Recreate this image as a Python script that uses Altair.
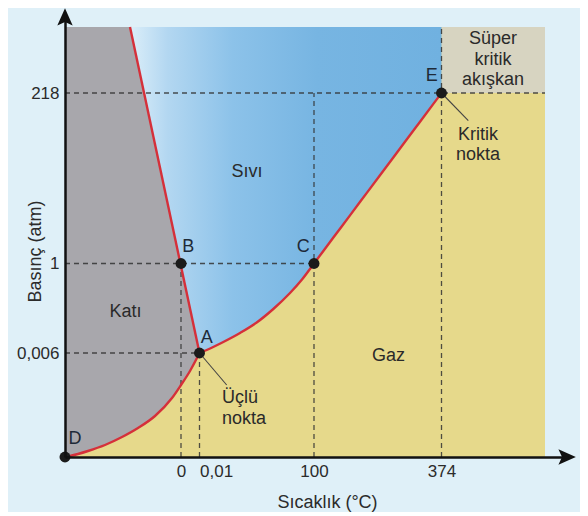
import altair as alt
import pandas as pd

# ---- schematic axis positions (diagram units) and their tick labels ----
T_POS = [116, 134.5, 249, 376.5]
T_LABELS = ["0", "0,01", "100", "374"]
P_POS = [104, 193.5, 364]
P_LABELS = ["0,006", "1", "218"]

# ---- phase boundary curves (diagram units) ----
SUB_X = [0, 5, 23, 40, 57, 73, 90, 107, 116, 125, 134.5]
SUB_Y = [0, 1, 6, 12, 20, 29, 41, 59, 72, 86, 104]
VAP_X = [134.5, 141.7, 158.3, 175, 191.7, 208.3, 225, 237, 249, 268, 285, 302, 318, 335, 352, 368, 376.5]
VAP_Y = [104, 107, 115, 124, 134.5, 148, 164, 177.5, 193.5, 219, 241.6, 264.4, 285.8, 308.5, 331.2, 352.6, 364]
FUS_X = [65, 134.5]
FUS_Y = [430, 104]

# ---- diagram extent ----
X_END = 480
Y_END = 430

# ---- labelled points ----
PT_NAMES = ["A", "B", "C", "D", "E"]
PT_X = [134.5, 116, 249, 0, 376.5]
PT_Y = [104, 193.5, 193.5, 0, 364]
PT_LX = [141.7, 123.3, 238.3, 10, 366.7]
PT_LY = [119, 210, 210, 18, 381]

# ---- region labels ----
REG_TEXT = ["Katı", "Sıvı", "Gaz", "Kritik", "nokta", "Süper", "kritik", "akışkan"]
REG_X = [60.5, 182, 323.5, 413, 413, 428, 428, 428]
REG_Y = [145, 285, 101, 322, 302, 418, 397, 377]
TRIPLE_TEXT = ["Üçlü", "nokta"]
TRIPLE_X = [157, 157]
TRIPLE_Y = [59, 38]

FONT = "Liberation Sans"
XD = [0, 503]
YD = [0, 443]

xs = alt.Scale(domain=XD, nice=False, zero=False)
ys = alt.Scale(domain=YD, nice=False, zero=False)


def expr(pos, labels):
    s = "''"
    for p, l in reversed(list(zip(pos, labels))):
        s = f"datum.value == {p} ? '{l}' : ({s})"
    return s


x_axis = alt.Axis(
    values=T_POS, labelExpr=expr(T_POS, T_LABELS), grid=False, ticks=False,
    domain=True, domainColor="#111111", domainWidth=2.5,
    labelFont=FONT, labelFontSize=17, labelColor="#2b2b2b", labelPadding=6,
    labelOverlap=False, labelFlush=False,
    labelAlign={"condition": {"test": "datum.value == 134.5", "value": "left"}, "value": "center"},
    title="Sıcaklık (°C)", titleFont=FONT, titleFontSize=18, titleFontWeight="normal",
    titleColor="#2b2b2b", titleX=262, titleY=45, titleBaseline="middle", titleAlign="center",
    zindex=1,
)
y_axis = alt.Axis(
    values=P_POS, labelExpr=expr(P_POS, P_LABELS), grid=False, ticks=False,
    domain=True, domainColor="#111111", domainWidth=2.5,
    labelFont=FONT, labelFontSize=17, labelColor="#2b2b2b", labelPadding=6,
    labelOverlap=False, labelFlush=False,
    title="Basınç (atm)", titleFont=FONT, titleFontSize=18, titleFontWeight="normal",
    titleColor="#2b2b2b", titleX=-30, titleY=237, titleBaseline="middle", titleAlign="center",
    titleAngle=270, zindex=1,
)


def X(f):
    return alt.X(f, type="quantitative", scale=xs, axis=x_axis)


def Y(f):
    return alt.Y(f, type="quantitative", scale=ys, axis=y_axis)


# regions
rects = pd.DataFrame({
    "x": [0, T_POS[3]], "x2": [X_END, X_END],
    "y": [0, P_POS[2]], "y2": [Y_END, Y_END],
    "c": ["#e6d98b", "#d7d4c1"],
})
rect_layer = alt.Chart(rects).mark_rect().encode(
    x=X("x"), x2="x2", y=Y("y"), y2="y2",
    color=alt.Color("c:N", scale=None),
)

solid = pd.DataFrame({"x": SUB_X, "y": [Y_END] * len(SUB_X), "y2": SUB_Y})
solid_layer = alt.Chart(solid).mark_area(color="#a8a7ac", interpolate="monotone").encode(
    x=X("x"), y=Y("y"), y2="y2"
)

liq_x = [FUS_X[0]] + VAP_X
liq_y2 = [FUS_Y[0]] + VAP_Y
liquid = pd.DataFrame({"x": liq_x, "y": [Y_END] * len(liq_x), "y2": liq_y2})
grad = alt.Gradient(
    gradient="linear", x1=0, x2=1, y1=0, y2=0,
    stops=[
        alt.GradientStop(color="#dbeef9", offset=0),
        alt.GradientStop(color="#b3d7f1", offset=0.12),
        alt.GradientStop(color="#8cc2e9", offset=0.33),
        alt.GradientStop(color="#77b5e2", offset=0.6),
        alt.GradientStop(color="#70b1e0", offset=1),
    ],
)
liquid_layer = alt.Chart(liquid).mark_area(color=grad).encode(
    x=X("x"), y=Y("y"), y2="y2"
)

# dashed guide lines
guides = pd.DataFrame({
    "x": [0, T_POS[3], 0, T_POS[2], T_POS[0], T_POS[1], 0],
    "x2": [X_END, T_POS[3], T_POS[2], T_POS[2], T_POS[0], T_POS[1], T_POS[1]],
    "y": [P_POS[2], 0, P_POS[1], 0, 0, 0, P_POS[0]],
    "y2": [P_POS[2], Y_END, P_POS[1], P_POS[2], P_POS[1], P_POS[0], P_POS[0]],
})
guide_layer = alt.Chart(guides).mark_rule(
    color="#333333", strokeDash=[5, 4], strokeWidth=1.3, opacity=0.85
).encode(x=X("x"), x2="x2", y=Y("y"), y2="y2")

# phase boundaries
curves = pd.concat([
    pd.DataFrame({"x": SUB_X, "y": SUB_Y, "k": "sub", "o": range(len(SUB_X))}),
    pd.DataFrame({"x": VAP_X, "y": VAP_Y, "k": "vap", "o": range(len(VAP_X))}),
    pd.DataFrame({"x": FUS_X, "y": FUS_Y, "k": "fus", "o": range(len(FUS_X))}),
])
curve_layer = alt.Chart(curves).mark_line(
    color="#d5303a", strokeWidth=2.4, interpolate="monotone"
).encode(x=X("x"), y=Y("y"), detail="k:N", order="o:Q")

# leader lines
leaders = pd.DataFrame({
    "x": [PT_X[0], PT_X[4]], "y": [PT_Y[0], PT_Y[4]],
    "x2": [161.7, 403.3], "y2": [72, 336.3],
})
leader_layer = alt.Chart(leaders).mark_rule(color="#444444", strokeWidth=1.1).encode(
    x=X("x"), x2="x2", y=Y("y"), y2="y2"
)

pts = pd.DataFrame({"x": PT_X, "y": PT_Y, "n": PT_NAMES, "lx": PT_LX, "ly": PT_LY})
pt_layer = alt.Chart(pts).mark_circle(color="#1b1b1b", size=120, opacity=1).encode(
    x=X("x"), y=Y("y")
)
pt_text = alt.Chart(pts).mark_text(
    font=FONT, fontSize=18, color="#1e2a38", baseline="middle", align="center"
).encode(x=X("lx"), y=Y("ly"), text="n:N")

regs = pd.DataFrame({"t": REG_TEXT, "x": REG_X, "y": REG_Y})
reg_text = alt.Chart(regs).mark_text(
    font=FONT, fontSize=18, color="#2a2a2a", baseline="middle", align="center"
).encode(x=X("x"), y=Y("y"), text="t:N")
tri = pd.DataFrame({"t": TRIPLE_TEXT, "x": TRIPLE_X, "y": TRIPLE_Y})
tri_text = alt.Chart(tri).mark_text(
    font=FONT, fontSize=18, color="#2a2a2a", baseline="middle", align="left"
).encode(x=X("x"), y=Y("y"), text="t:N")

# axis arrowheads
arrows = pd.DataFrame({"x": [0, 500.6], "y": [438.6, 0], "s": ["up", "right"]})
up_path = "M0,-1 L0.75,0.7 L0,0.35 L-0.75,0.7 Z"
right_path = "M1,0 L-0.7,0.75 L-0.35,0 L-0.7,-0.75 Z"
arrow_layer = alt.Chart(arrows).mark_point(filled=True, opacity=1, color="#111111", size=420).encode(
    x=X("x"), y=Y("y"),
    shape=alt.Shape("s:N", scale=alt.Scale(domain=["up", "right"], range=[up_path, right_path]), legend=None),
)

chart = alt.layer(
    rect_layer, solid_layer, liquid_layer, guide_layer, curve_layer, leader_layer,
    pt_layer, pt_text, reg_text, tri_text, arrow_layer,
).properties(
    width=503, height=443,
    autosize=alt.AutoSizeParams(type="none"),
    padding={"left": 57, "top": 6, "right": 12, "bottom": 55},
    background="#dff0f8",
).configure_view(stroke=None)

chart.save("out.html", embed_options={"renderer": "svg", "actions": False})
